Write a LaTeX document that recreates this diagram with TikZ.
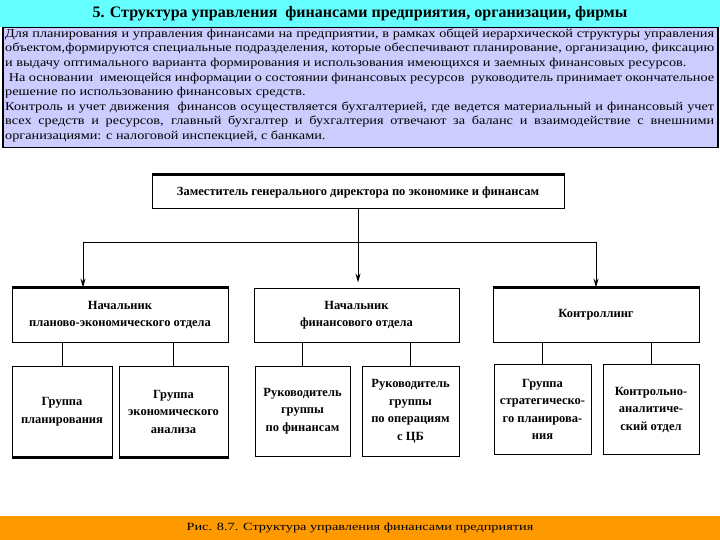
\documentclass[tikz,border=0pt]{standalone}
\usepackage{fontspec}
\setmainfont{Liberation Serif}
\newfontfamily\widefont{Liberation Serif}[FakeStretch=1.3]
\newfontfamily\notefont{Liberation Serif}[FakeStretch=1.19]
\usetikzlibrary{arrows.meta}
\definecolor{titlecyan}{RGB}{102,255,255}
\definecolor{notelilac}{RGB}{204,204,255}
\definecolor{bandorange}{RGB}{255,153,0}

\begin{document}
\begin{tikzpicture}[x=1pt,y=-1pt]
\useasboundingbox (0,0) rectangle (720,540);
% title band and text block
\fill[titlecyan] (0,0) rectangle (720,27);
\node (T) at (360,14) {\fontsize{16}{18}\selectfont\bfseries 5. Структура управления\ \ финансами предприятия, организации, фирмы};
\node[draw, line width=1.5pt, fill=notelilac, anchor=north west, minimum width=715pt, minimum height=120pt] (P) at (2,27) {};
\node[anchor=north west, text width=709pt, align=justify, inner sep=0pt,
  font=\notefont\fontsize{12}{14.6}\selectfont] (Q) at (5,28.5)
  {Для планирования и управления финансами на предприятии, в рамках общей иерархической структуры управления\linebreak
  объектом,формируются специальные подразделения, которые обеспечивают планирование, организацию, фиксацию\linebreak
  и выдачу оптимального варианта формирования и использования имеющихся и заемных финансовых ресурсов.\\
  \hspace*{0.3em}На основании\ \ имеющейся информации о состоянии финансовых ресурсов\ \ руководитель принимает окончательное\linebreak
  решение по использованию финансовых средств.\\
  Контроль и учет движения\ \ финансов осуществляется бухгалтерией, где ведется материальный и финансовый учет\linebreak
  всех средств и ресурсов, главный бухгалтер и бухгалтерия отвечают за баланс и взаимодействие с внешними\linebreak
  организациями: с налоговой инспекцией, с банками.\par};
% the chart
\begin{scope}[every node/.style={draw, line width=1pt, align=center, inner sep=2pt,
    font=\fontsize{12.5}{17.5}\selectfont\bfseries}]
\node[minimum width=412pt, minimum height=34pt] (Z) at (358,192) {Заместитель генерального директора по экономике и финансам};
\node[minimum width=216pt, minimum height=54pt] (N1) at (120,315) {Начальник\\планово-экономического отдела};
\node[minimum width=205pt, minimum height=54pt] (N2) at (356.5,315) {Начальник\\финансового отдела};
\node[minimum width=206pt, minimum height=54pt] (N3) at (596,315) {Контроллинг};
\node[minimum width=100pt, minimum height=91pt] (G1) at (62,411.5) {Группа\\планирования};
\node[minimum width=109pt, minimum height=91pt] (G2) at (173.5,411.5) {Группа\\экономического\\анализа};
\node[minimum width=95pt, minimum height=90pt] (G3) at (302.5,411) {Руководитель\\группы\\по финансам};
\node[minimum width=97pt, minimum height=90pt] (G4) at (410.5,411) {Руководитель\\группы\\по операциям\\с ЦБ};
\node[minimum width=97pt, minimum height=90pt] (G5) at (542.5,409.5) {Группа\\стратегическо-\\го планирова-\\ния};
\node[minimum width=96pt, minimum height=90pt] (G6) at (651,409.5) {Контрольно-\\аналитиче-\\ский отдел};
\end{scope}
% heavier edges
\draw [line width=2.2pt] (Z.north west) -- (Z.north east);
\draw [line width=2.2pt] (N1.north west) -- (N1.north east);
\draw [line width=2.2pt] (N3.north west) -- (N3.north east);
\draw [line width=2.2pt] (G1.south west) -- (G1.south east);
\draw [line width=2.2pt] (G2.south west) -- (G2.south east);
% connectors
\coordinate (L) at (83,242);
\coordinate (R) at (596,242);
\draw [line width=1pt] (L) -- (R);
\draw [line width=1pt, shorten >=5pt, -{Stealth[length=9pt,width=5pt]}] (Z.south) -- (Z.south |- N2.north);
\draw [line width=1pt, -{Stealth[length=9pt,width=5pt]}] (L) -- (L |- N1.north);
\draw [line width=1pt, -{Stealth[length=9pt,width=5pt]}] (R) -- (N3.north);
\draw [line width=1pt] (N1.south -| G1) edge (G1);
\draw [line width=1pt] (N1.south -| G2) edge (G2);
\draw [line width=1pt] (N2.south -| G3) edge (G3);
\draw [line width=1pt] (N2.south -| G4) edge (G4);
\draw [line width=1pt] (N3.south -| G5) edge (G5);
\draw [line width=1pt] (N3.south -| G6) edge (G6);
% caption band
\fill[bandorange] (0,516) rectangle (720,540);
\node (C) at (360,528) {\widefont\fontsize{11}{13}\selectfont Рис. 8.7. Структура управления финансами предприятия};
\end{tikzpicture}
\end{document}
